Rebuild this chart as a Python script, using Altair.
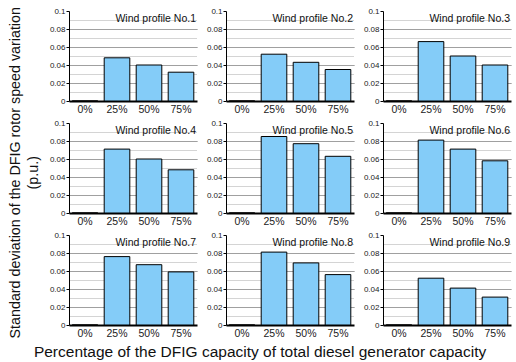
import altair as alt
import pandas as pd

categories = ["0%", "25%", "50%", "75%"]
profiles = ["Wind profile No.1", "Wind profile No.2", "Wind profile No.3",
            "Wind profile No.4", "Wind profile No.5", "Wind profile No.6",
            "Wind profile No.7", "Wind profile No.8", "Wind profile No.9"]
values = [
    [0, 0.048, 0.040, 0.032],
    [0, 0.052, 0.043, 0.035],
    [0, 0.066, 0.050, 0.040],
    [0, 0.071, 0.060, 0.048],
    [0, 0.085, 0.077, 0.063],
    [0, 0.081, 0.071, 0.058],
    [0, 0.076, 0.067, 0.059],
    [0, 0.081, 0.069, 0.056],
    [0, 0.052, 0.041, 0.031],
]
y_values = [0, 0.01, 0.02, 0.03, 0.04, 0.05, 0.06, 0.07, 0.08, 0.09, 0.1]

FONT = "Liberation Sans"
ODD = "round(datum.value*100) % 2 == 1"


def panel(i):
    df = pd.DataFrame({"cap": categories, "std": values[i]})
    bars = alt.Chart(df).mark_bar(color="#84CCF8", stroke="black", strokeWidth=1).encode(
        x=alt.X("cap:N", sort=categories,
                scale=alt.Scale(paddingInner=0.2, paddingOuter=0.1),
                axis=alt.Axis(title=None, labelAngle=0, labelFontSize=10.5, labelFont=FONT,
                              labelColor="#222", ticks=False, domainColor="black",
                              domainWidth=2, labelPadding=3, grid=False)),
        y=alt.Y("std:Q", scale=alt.Scale(domain=[0, 0.1], nice=False),
                axis=alt.Axis(title=None, values=y_values, format="~g",
                              labelExpr="round(datum.value*100) % 2 == 0 ? datum.label : ''",
                              labelFontSize=8, labelFont=FONT, labelColor="#222",
                              tickSize=3, tickColor="black",
                              tickOpacity={"condition": {"test": ODD, "value": 0}, "value": 1},
                              domainColor="black", domainWidth=1, labelPadding=1,
                              grid=True,
                              gridColor={"condition": {"test": ODD, "value": "#a8a8a8"}, "value": "#808080"},
                              gridDash={"condition": {"test": ODD, "value": [1, 1]}, "value": [1, 0]},
                              gridOpacity={"condition": {"test": "datum.value > 0.095 || datum.value < 0.005", "value": 0}, "value": 1})),
    )
    title = alt.Chart(pd.DataFrame({"t": [profiles[i]]})).mark_text(
        align="right", baseline="alphabetic", fontSize=10.5, font=FONT, color="#111"
    ).encode(x=alt.value(127), y=alt.value(11), text="t:N")
    return alt.layer(bars, title).properties(width=128, height=90)


inner = alt.concat(*[panel(i) for i in range(9)], columns=3,
                   spacing={"row": 22, "column": 29}, bounds="flush").properties(
    title=alt.TitleParams(
        text=["Standard deviation of the DFIG rotor speed variation", "(p.u.)"],
        orient="left", anchor="middle", fontSize=14.3, font=FONT, fontWeight="normal",
        color="#111", lineHeight=18, offset=8)
)
chart = alt.vconcat(inner).properties(
    title=alt.TitleParams(
        text="Percentage of the DFIG capacity of total diesel generator capacity",
        orient="bottom", anchor="middle", fontSize=15.5, font=FONT, fontWeight="normal",
        color="#111", offset=6),
    padding={"left": 9, "top": 7, "right": 1, "bottom": 5},
).configure_view(strokeWidth=0)

chart.save("out.html", embed_options={"renderer": "svg", "actions": False})
